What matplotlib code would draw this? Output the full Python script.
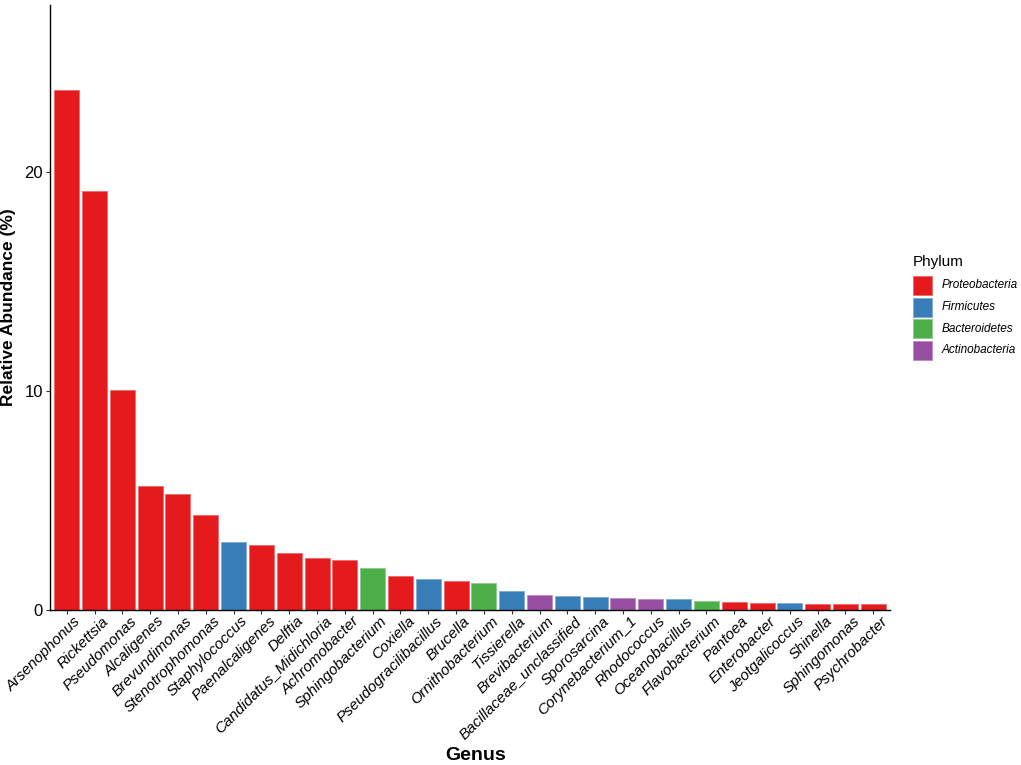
import matplotlib
matplotlib.use("Agg")
import matplotlib.pyplot as plt
from matplotlib.patches import Rectangle
import matplotlib.colors as mcolors
import matplotlib.transforms as mtrans

genera = ["Arsenophonus", "Rickettsia", "Pseudomonas", "Alcaligenes", "Brevundimonas",
          "Stenotrophomonas", "Staphylococcus", "Paenalcaligenes", "Delftia",
          "Candidatus_Midichloria", "Achromobacter", "Sphingobacterium", "Coxiella",
          "Pseudogracilibacillus", "Brucella", "Ornithobacterium", "Tissierella",
          "Brevibacterium", "Bacillaceae_unclassified", "Sporosarcina", "Corynebacterium_1",
          "Rhodococcus", "Oceanobacillus", "Flavobacterium", "Pantoea", "Enterobacter",
          "Jeotgalicoccus", "Shinella", "Sphingomonas", "Psychrobacter"]
abundance = [23.72, 19.12, 10.02, 5.67, 5.29, 4.35, 3.12, 2.98, 2.62, 2.36, 2.29,
             1.93, 1.54, 1.43, 1.31, 1.25, 0.87, 0.67, 0.64, 0.61, 0.56, 0.49, 0.49,
             0.40, 0.37, 0.33, 0.30, 0.29, 0.29, 0.26]
phylum = ["Proteobacteria"] * 6 + ["Firmicutes"] + ["Proteobacteria"] * 4 + \
         ["Bacteroidetes", "Proteobacteria", "Firmicutes", "Proteobacteria", "Bacteroidetes",
          "Firmicutes", "Actinobacteria", "Firmicutes", "Firmicutes", "Actinobacteria",
          "Actinobacteria", "Firmicutes", "Bacteroidetes", "Proteobacteria", "Proteobacteria",
          "Firmicutes", "Proteobacteria", "Proteobacteria", "Proteobacteria"]
phyla_order = ["Proteobacteria", "Firmicutes", "Bacteroidetes", "Actinobacteria"]
phyla_colors = ["#E41A1C", "#377EB8", "#4DAF4A", "#984EA3"]
cmap = dict(zip(phyla_order, phyla_colors))

def lighter(c, f=0.35):
    r, g, b = mcolors.to_rgb(c)
    return (r + (1 - r) * f, g + (1 - g) * f, b + (1 - b) * f)

plt.rcParams['font.family'] = ['Liberation Sans', 'DejaVu Sans']

W, H = 1021, 765
fig = plt.figure(figsize=(W / 100, H / 100), dpi=100)
ax = fig.add_axes([50/W, 155/H, 840/W, 605/H])

x = list(range(1, len(genera) + 1))
cols = [cmap[p] for p in phylum]
ax.bar(x, abundance, width=0.9, color=cols, edgecolor=[lighter(c) for c in cols], linewidth=0.6)

ax.set_xlim(0.4, len(genera) + 0.6)
ax.set_ylim(0, 27.6)
ax.set_yticks([0, 10, 20])
ax.set_yticklabels(["0", "10", "20"], fontsize=12)
ax.set_xticks(x)
ax.set_xticklabels([])
# rotated genus labels, anchored near each tick (ggplot-like justification)
lbl_trans = ax.get_xaxis_transform() + mtrans.ScaledTranslation(7/100, -4/100, fig.dpi_scale_trans)
for xi, name in zip(x, genera):
    ax.text(xi, 0, name, transform=lbl_trans, rotation=45, rotation_mode="anchor",
            ha="right", va="top", fontsize=11, style="italic", clip_on=False)

for s in ["top", "right"]:
    ax.spines[s].set_visible(False)
for s in ["left", "bottom"]:
    ax.spines[s].set_linewidth(1.0)
    ax.spines[s].set_color("black")
ax.tick_params(axis="both", length=3, width=0.8, color="#333333", labelcolor="black", pad=2)

ax.set_ylabel("Relative Abundance (%)", fontsize=12.5, fontweight="bold", labelpad=6)
ax.set_xlabel("Genus", fontsize=14, fontweight="bold")
ax.xaxis.set_label_coords(0.507, -0.227)

# legend (drawn in figure pixel coordinates)
ptrans = mtrans.Affine2D().scale(1 / W, -1 / H).translate(0, 1) + fig.transFigure
fig.text(913, 266, "Phylum", transform=ptrans, fontsize=11, ha="left", va="baseline")
for i, (p, c) in enumerate(zip(phyla_order, phyla_colors)):
    y0 = 276 + i * 21.6
    fig.add_artist(Rectangle((913, y0), 19, 19, transform=ptrans, facecolor=c,
                             edgecolor=lighter(c), linewidth=0.6))
    fig.text(942, y0 + 9.5, p, transform=ptrans, fontsize=8.5, style="italic",
             ha="left", va="center")

fig.savefig("out.png", dpi=100)
